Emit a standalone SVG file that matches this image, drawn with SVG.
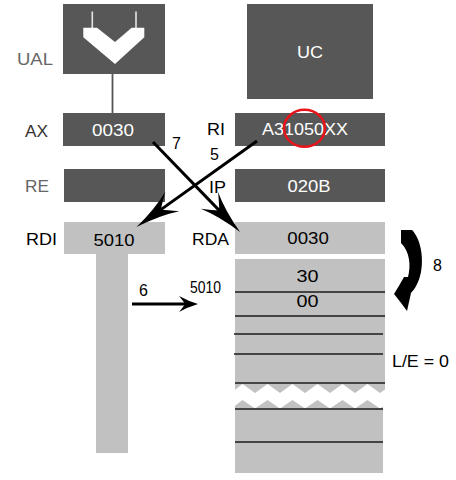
<svg xmlns="http://www.w3.org/2000/svg" width="456" height="480" viewBox="0 0 456 480">
<defs>
<style>
.dark{fill:#575757}
.light{fill:#c1c1c1}
.t{font-family:"Liberation Sans",Arial,sans-serif;font-size:16px}
.w{fill:#ffffff}
.b{fill:#000000}
.g{fill:#666666}
.mid{text-anchor:middle}
.sep{stroke:#1a1a1a;stroke-width:1.5}
.arr{stroke:#000;stroke-width:3;fill:none}
</style>
<marker id="headBig" markerUnits="userSpaceOnUse" orient="auto" viewBox="-46 -14 48 28" refX="-14" refY="0" markerWidth="48" markerHeight="28" overflow="visible">
<path d="M0,0 Q-26,-4 -44,-12 Q-34,-4 -30,0 Q-34,4 -44,12 Q-26,4 0,0 Z" fill="#000"/>
</marker>
<marker id="headSmall" markerUnits="userSpaceOnUse" orient="auto" viewBox="-21 -10 23 20" refX="-8" refY="0" markerWidth="23" markerHeight="20" overflow="visible">
<path d="M0,0 Q-10,-3 -19,-8 Q-14,-2 -13,0 Q-14,2 -19,8 Q-10,3 0,0 Z" fill="#000"/>
</marker>
</defs>

<g id="UAL">
<rect class="dark" x="63" y="4" width="102" height="70"/>
<line x1="92.3" y1="11.5" x2="92.3" y2="28" stroke="#e6e6e6" stroke-width="1.6"/>
<line x1="136" y1="11.5" x2="136" y2="28" stroke="#e6e6e6" stroke-width="1.6"/>
<polygon points="83.3,27.7 97,27.7 115,42 131.7,27.7 144.3,27.7 144.3,37.3 115,64 83.3,37.3" fill="#ffffff"/>
<text class="t g" x="17" y="65" textLength="36" lengthAdjust="spacingAndGlyphs">UAL</text>
</g>

<g id="UC">
<rect class="dark" x="247" y="4" width="126" height="95"/>
<text class="t w mid" x="310" y="58.3" font-size="17" textLength="26" lengthAdjust="spacingAndGlyphs">UC</text>
</g>

<g id="AX">
<rect class="dark" x="63" y="113" width="102" height="33"/>
<text class="t w mid" x="113" y="135.7" textLength="42" lengthAdjust="spacingAndGlyphs">0030</text>
<text class="t" x="25" y="136.7" fill="#333333" textLength="23" lengthAdjust="spacingAndGlyphs">AX</text>
</g>

<g id="RI">
<rect class="dark" x="235" y="113" width="150" height="33"/>
<text class="t w mid" x="305" y="135" textLength="86" lengthAdjust="spacingAndGlyphs">A31050XX</text>
<ellipse cx="304.5" cy="128.3" rx="20.5" ry="18.5" fill="none" stroke="#e8141b" stroke-width="2.5"/>
<text class="t b" x="207" y="135" textLength="18" lengthAdjust="spacingAndGlyphs">RI</text>
</g>

<g id="RE">
<rect class="dark" x="64" y="169" width="101" height="33"/>
<text class="t g" x="25" y="191.7" textLength="24" lengthAdjust="spacingAndGlyphs">RE</text>
</g>

<g id="IP">
<rect class="dark" x="235" y="169" width="150" height="33"/>
<text class="t w mid" x="309" y="191.7" textLength="43" lengthAdjust="spacingAndGlyphs">020B</text>
<text class="t b" x="209" y="192.7" textLength="17" lengthAdjust="spacingAndGlyphs">IP</text>
</g>

<g id="RDI">
<rect class="light" x="64" y="222" width="101" height="32"/>
<rect class="light" x="96" y="253" width="32" height="200"/>
<text class="t b mid" x="114" y="245.7" textLength="41" lengthAdjust="spacingAndGlyphs">5010</text>
<text class="t b" x="26" y="245" textLength="31" lengthAdjust="spacingAndGlyphs">RDI</text>
</g>

<g id="RDA">
<rect class="light" x="235" y="222" width="150" height="32"/>
<text class="t b mid" x="308" y="244.3" textLength="41.5" lengthAdjust="spacingAndGlyphs">0030</text>
<text class="t b" x="192" y="245" textLength="37" lengthAdjust="spacingAndGlyphs">RDA</text>
</g>

<g id="memory">
<path class="light" d="M235,259 H385 V389.4 L380,393 L367.5,384 L355,393 L342.5,384 L330,393 L317.5,384 L305,393 L292.5,384 L280,393 L267.5,384 L255,393 L242.5,384 L235,389.8 Z"/>
<path class="light" d="M235,405.8 L242.5,400 L255,408.5 L267.5,400 L280,408.5 L292.5,400 L305,408.5 L317.5,400 L330,408.5 L342.5,400 L355,408.5 L367.5,400 L380,408.5 L383,406.5 V473 H235 Z"/>
<line class="sep" x1="235" y1="292" x2="385" y2="292"/>
<line class="sep" x1="235" y1="316" x2="385" y2="316"/>
<line class="sep" x1="234" y1="334" x2="383" y2="334"/>
<line class="sep" x1="234" y1="354" x2="383" y2="354"/>
<line class="sep" x1="235" y1="383" x2="385" y2="383"/>
<line class="sep" x1="235" y1="409" x2="383" y2="409"/>
<line class="sep" x1="235" y1="442" x2="383" y2="442"/>
<text class="t b mid" x="307.5" y="281.7" textLength="22" lengthAdjust="spacingAndGlyphs">30</text>
<text class="t b mid" x="307.5" y="307.3" textLength="22" lengthAdjust="spacingAndGlyphs">00</text>
<text class="t b" x="392" y="366.7" textLength="57" lengthAdjust="spacingAndGlyphs">L/E = 0</text>
<text class="t b" x="190" y="293" font-size="13" textLength="31" lengthAdjust="spacingAndGlyphs">5010</text>
</g>

<g id="connectors">
<line x1="112.5" y1="74" x2="112.5" y2="113" stroke="#555555" stroke-width="1.8"/>
<line class="arr" x1="153" y1="142" x2="230.3" y2="221.9" marker-end="url(#headBig)"/>
<line class="arr" x1="257" y1="141" x2="147.9" y2="218.9" marker-end="url(#headBig)"/>
<line class="arr" x1="132" y1="304" x2="190" y2="304" stroke-width="2.5" marker-end="url(#headSmall)"/>
<path d="M401,230 L412,230 C420,238 424,256 421,272 C419,282 415,289 411,293 L407,311 Q399,300 394,294 Q399,286 404,277 L408,277 C411,266 410,252 401,243 Z" fill="#000"/>
<text class="t b" x="172" y="149.3">7</text>
<text class="t b" x="210" y="160">5</text>
<text class="t b" x="139" y="296">6</text>
<text class="t b" x="433" y="271">8</text>
</g>
</svg>
